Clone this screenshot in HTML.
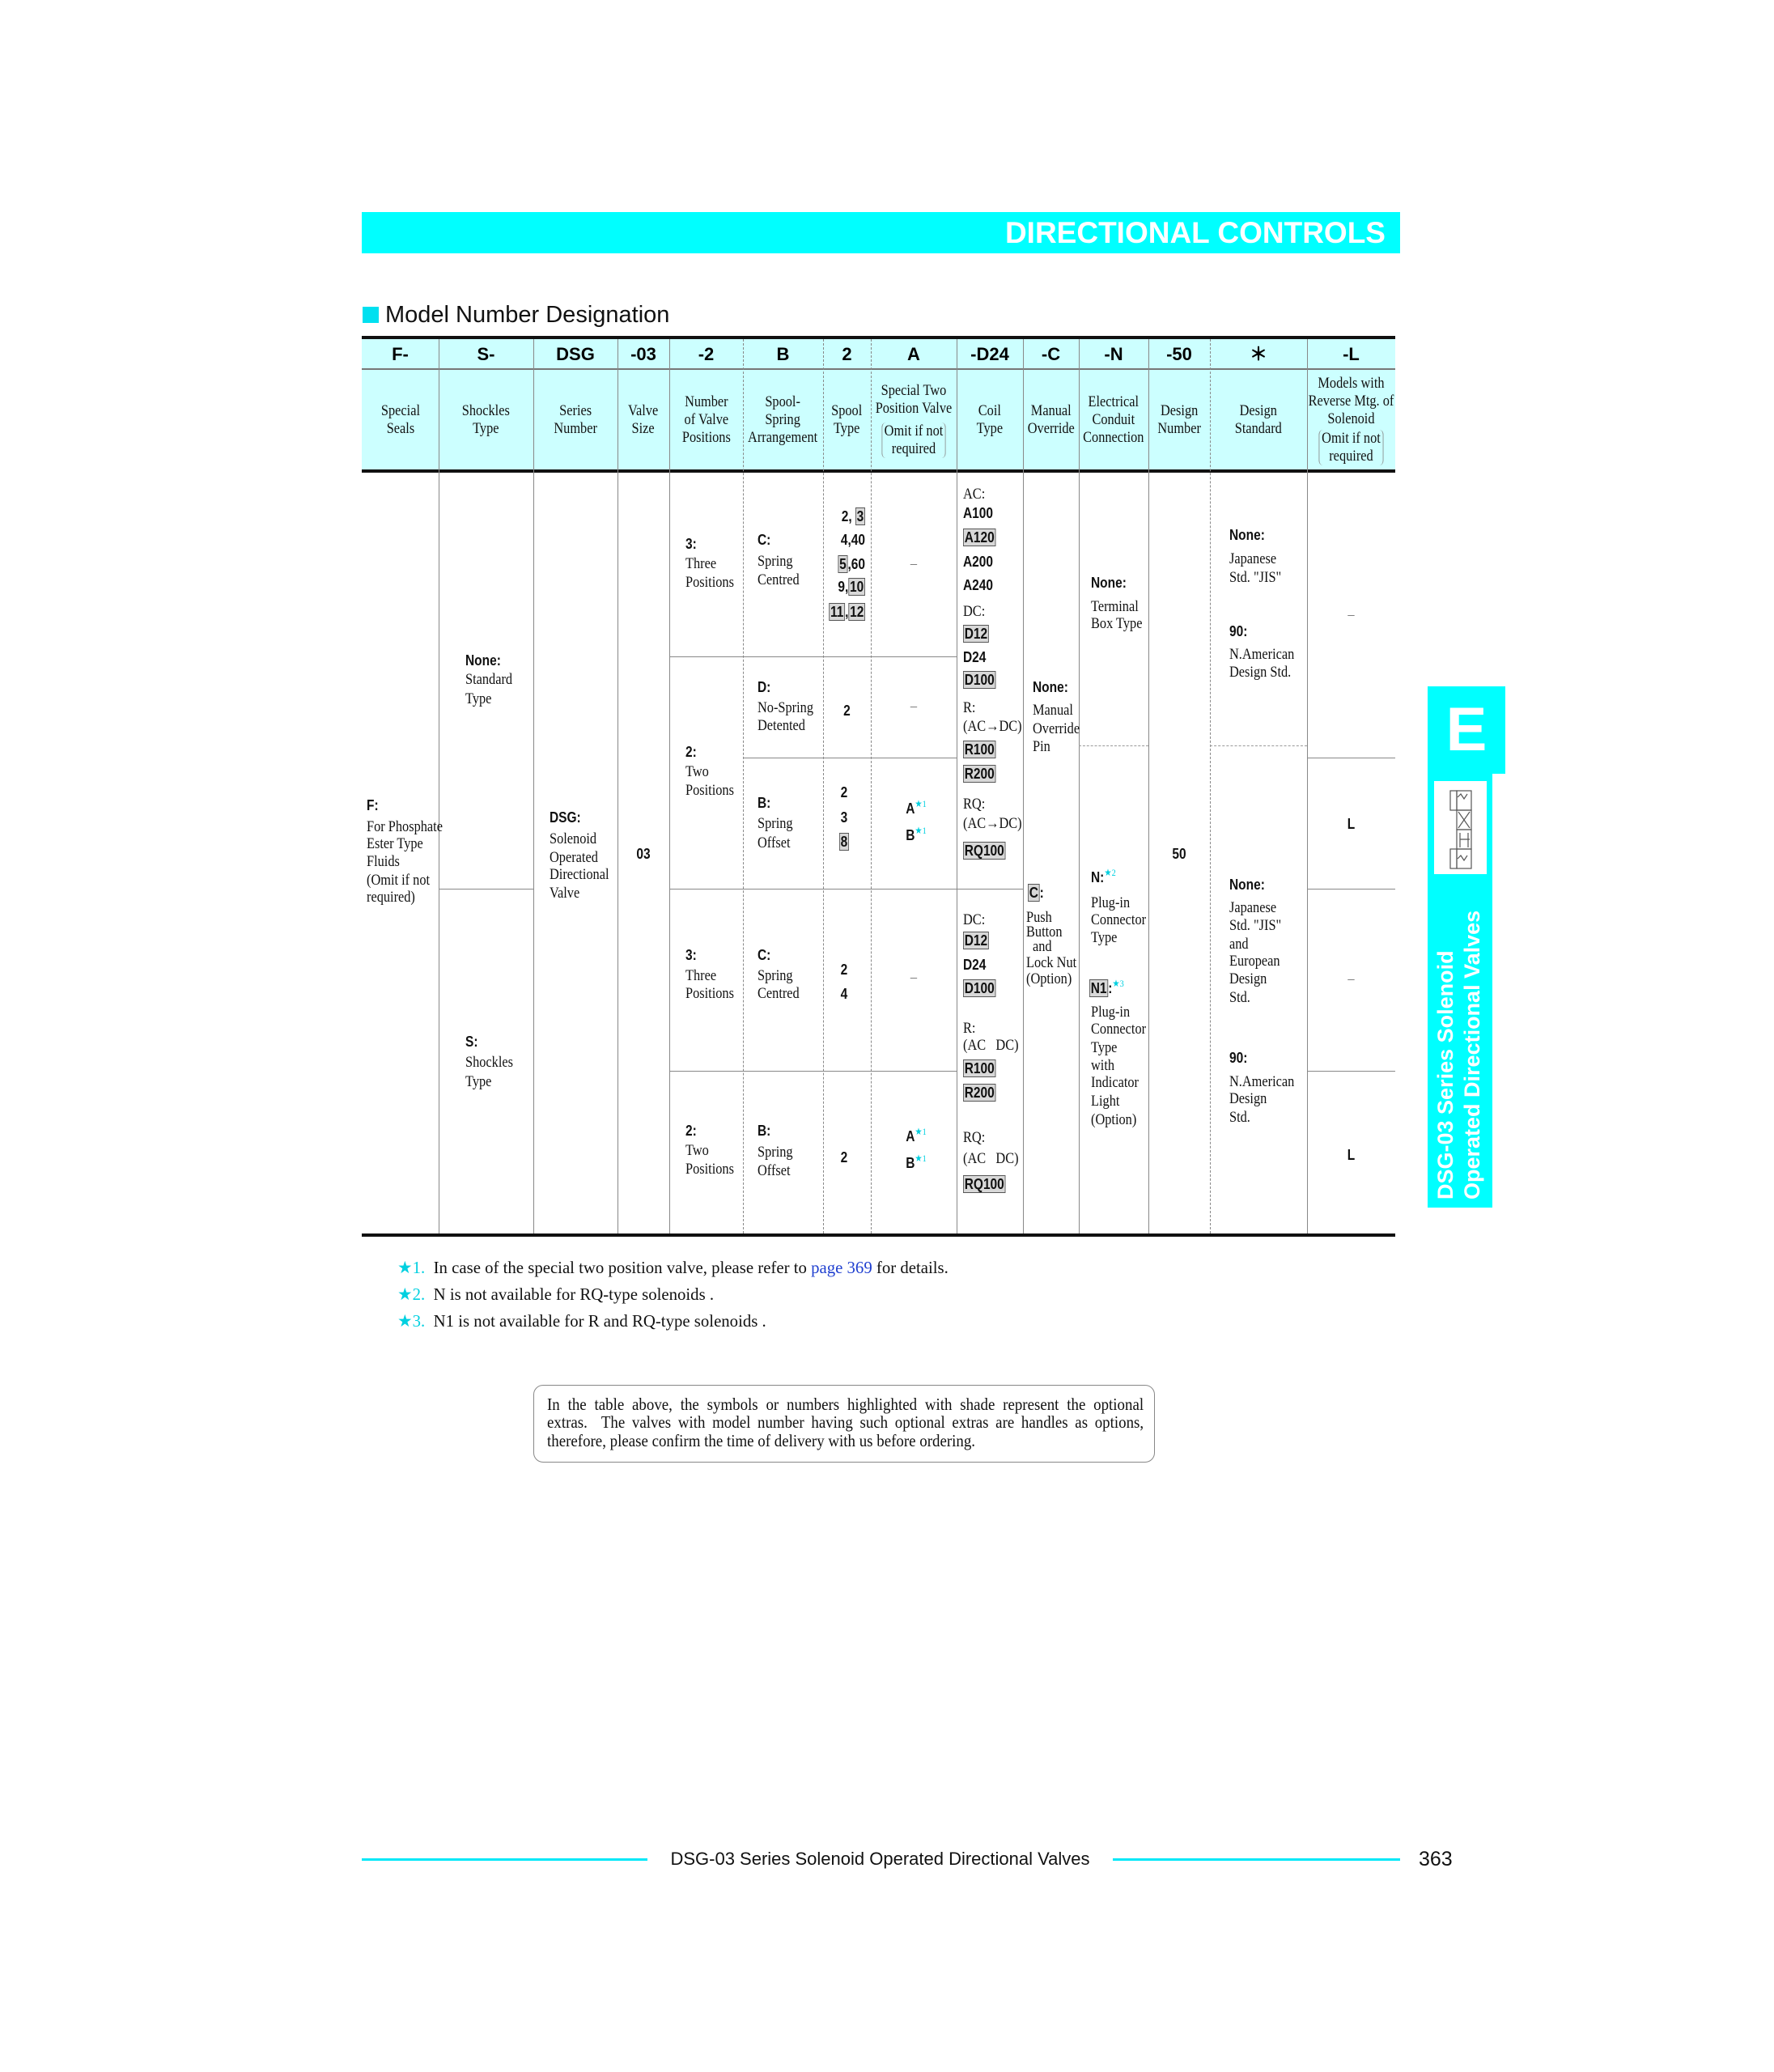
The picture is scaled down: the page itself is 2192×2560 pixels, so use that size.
<!DOCTYPE html>
<html><head><meta charset="utf-8">
<style>
html,body{margin:0;padding:0;background:#fff;}
body{width:2192px;height:2560px;position:relative;overflow:hidden;}
.a{position:absolute;}
.t{position:absolute;font:19px/22px "Liberation Serif",serif;white-space:nowrap;transform:translateY(-50%) scaleX(.86);transform-origin:0 50%;color:#111;}
.b{font-family:"Liberation Sans",sans-serif;font-weight:bold;font-size:18px;}
.c{text-align:center;transform-origin:50% 50%;}
.x{background:#d8d8d8;border:1.5px solid #555;padding:0 1px;}
.k{color:#00d0e0;font-size:12px;font-weight:normal;vertical-align:top;position:relative;top:-6px;font-family:"Liberation Serif",serif;}
.v{position:absolute;width:0;border-left:1.5px solid #888;top:419px;height:1105px;}
.d{position:absolute;width:0;border-left:1.5px dashed #888;top:419px;height:1105px;}
.h{position:absolute;height:0;border-top:1.5px solid #888;}
.hd{position:absolute;height:0;border-top:1.5px dashed #999;}
.hc{position:absolute;top:458px;height:122px;display:flex;align-items:center;justify-content:center;}
.hc div{font:19px/22px "Liberation Serif",serif;text-align:center;transform:scaleX(.86);white-space:nowrap;color:#111;}
.om{display:inline-block;border-left:1.5px solid #888;border-right:1.5px solid #888;border-radius:6px;padding:0 3px;margin-top:6px;}
.h1{position:absolute;top:421px;height:34px;line-height:34px;text-align:center;font:bold 22px/34px "Liberation Sans",sans-serif;}
.fn{position:absolute;font:21px/24px "Liberation Serif",serif;white-space:nowrap;transform:translateY(-50%) scaleX(.99);transform-origin:0 50%;color:#111;}
.nl{position:absolute;left:676px;width:819px;transform:scaleX(.9);transform-origin:0 0;font:21px/22.5px 'Liberation Serif',serif;color:#111;white-space:nowrap;}
.nj{text-align:justify;text-align-last:justify;white-space:normal;}
</style></head><body>

<!-- banner -->
<div class="a" style="left:447px;top:262px;width:1283px;height:51px;background:#00ffff;"></div>
<div class="a" style="left:1100px;top:262px;width:612px;height:51px;text-align:right;font:bold 37px/51px 'Liberation Sans',sans-serif;color:#fff;">DIRECTIONAL CONTROLS</div>

<!-- title -->
<div class="a" style="left:448px;top:379px;width:20px;height:20px;background:#00e0f0;"></div>
<div class="a" style="left:476px;top:372px;font:29px/34px 'Liberation Sans',sans-serif;color:#111;">Model Number Designation</div>

<!-- header bg -->
<div class="a" style="left:447px;top:419px;width:1277px;height:163px;background:#ccffff;"></div>
<div class="a" style="left:447px;top:415px;width:1277px;height:4px;background:#111;"></div>
<div class="a" style="left:447px;top:455px;width:1277px;height:2px;background:#777;"></div>
<div class="a" style="left:447px;top:580px;width:1277px;height:4px;background:#111;"></div>
<div class="a" style="left:447px;top:1524px;width:1277px;height:4px;background:#111;"></div>

<!-- vertical lines -->
<div class="v" style="left:542px"></div>
<div class="v" style="left:659px"></div>
<div class="v" style="left:763px"></div>
<div class="v" style="left:827px"></div>
<div class="d" style="left:918px"></div>
<div class="d" style="left:1017px"></div>
<div class="d" style="left:1076px"></div>
<div class="v" style="left:1182px"></div>
<div class="v" style="left:1264px"></div>
<div class="v" style="left:1333px"></div>
<div class="v" style="left:1419px"></div>
<div class="d" style="left:1495px"></div>
<div class="v" style="left:1615px"></div>

<!-- horizontal body lines -->
<div class="h" style="left:542px;width:117px;top:1098px"></div>
<div class="h" style="left:827px;width:355px;top:811px"></div>
<div class="h" style="left:918px;width:264px;top:936px"></div>
<div class="h" style="left:827px;width:437px;top:1098px"></div>
<div class="h" style="left:827px;width:355px;top:1323px"></div>
<div class="hd" style="left:1333px;width:86px;top:921px"></div>
<div class="hd" style="left:1495px;width:120px;top:921px"></div>
<div class="h" style="left:1615px;width:109px;top:936px"></div>
<div class="h" style="left:1615px;width:109px;top:1098px"></div>
<div class="h" style="left:1615px;width:109px;top:1323px"></div>

<!-- header row 1 -->
<div class="h1" style="left:447px;width:95px">F-</div>
<div class="h1" style="left:542px;width:117px">S-</div>
<div class="h1" style="left:659px;width:104px">DSG</div>
<div class="h1" style="left:763px;width:64px">-03</div>
<div class="h1" style="left:827px;width:91px">-2</div>
<div class="h1" style="left:918px;width:99px">B</div>
<div class="h1" style="left:1017px;width:59px">2</div>
<div class="h1" style="left:1076px;width:106px">A</div>
<div class="h1" style="left:1182px;width:82px">-D24</div>
<div class="h1" style="left:1264px;width:69px">-C</div>
<div class="h1" style="left:1333px;width:86px">-N</div>
<div class="h1" style="left:1419px;width:76px">-50</div>
<div class="h1" style="left:1495px;width:120px">＊</div>
<div class="h1" style="left:1615px;width:109px">-L</div>

<!-- header row 2 -->
<div class="hc" style="left:447px;width:95px"><div>Special<br>Seals</div></div>
<div class="hc" style="left:542px;width:117px"><div>Shockles<br>Type</div></div>
<div class="hc" style="left:659px;width:104px"><div>Series<br>Number</div></div>
<div class="hc" style="left:763px;width:64px"><div>Valve<br>Size</div></div>
<div class="hc" style="left:827px;width:91px"><div>Number<br>of Valve<br>Positions</div></div>
<div class="hc" style="left:918px;width:99px"><div>Spool-<br>Spring<br>Arrangement</div></div>
<div class="hc" style="left:1017px;width:59px"><div>Spool<br>Type</div></div>
<div class="hc" style="left:1076px;width:106px"><div>Special Two<br>Position Valve<br><span class="om">Omit if not<br>required</span></div></div>
<div class="hc" style="left:1182px;width:82px"><div>Coil<br>Type</div></div>
<div class="hc" style="left:1264px;width:69px"><div>Manual<br>Override</div></div>
<div class="hc" style="left:1333px;width:86px"><div>Electrical<br>Conduit<br>Connection</div></div>
<div class="hc" style="left:1419px;width:76px"><div>Design<br>Number</div></div>
<div class="hc" style="left:1495px;width:120px"><div>Design<br>Standard</div></div>
<div class="hc" style="left:1615px;width:109px"><div>Models with<br>Reverse Mtg. of<br>Solenoid<br><span class="om" style="margin-top:2px">Omit if not<br>required</span></div></div>

<!-- F column -->
<div class="t b" style="left:453px;top:995px">F:</div>
<div class="t" style="left:453px;top:1022px">For Phosphate</div>
<div class="t" style="left:453px;top:1043px">Ester Type</div>
<div class="t" style="left:453px;top:1065px">Fluids</div>
<div class="t" style="left:453px;top:1088px">(Omit if not</div>
<div class="t" style="left:453px;top:1109px">required)</div>

<!-- Shockles -->
<div class="t b" style="left:575px;top:816px">None:</div>
<div class="t" style="left:575px;top:840px">Standard</div>
<div class="t" style="left:575px;top:864px">Type</div>
<div class="t b" style="left:575px;top:1287px">S:</div>
<div class="t" style="left:575px;top:1313px">Shockles</div>
<div class="t" style="left:575px;top:1337px">Type</div>

<!-- DSG -->
<div class="t b" style="left:679px;top:1010px">DSG:</div>
<div class="t" style="left:679px;top:1037px">Solenoid</div>
<div class="t" style="left:679px;top:1060px">Operated</div>
<div class="t" style="left:679px;top:1081px">Directional</div>
<div class="t" style="left:679px;top:1104px">Valve</div>

<div class="t b c" style="left:763px;width:64px;top:1055px">03</div>

<!-- positions -->
<div class="t b" style="left:847px;top:672px">3:</div>
<div class="t" style="left:847px;top:697px">Three</div>
<div class="t" style="left:847px;top:720px">Positions</div>
<div class="t b" style="left:847px;top:929px">2:</div>
<div class="t" style="left:847px;top:954px">Two</div>
<div class="t" style="left:847px;top:977px">Positions</div>
<div class="t b" style="left:847px;top:1180px">3:</div>
<div class="t" style="left:847px;top:1206px">Three</div>
<div class="t" style="left:847px;top:1228px">Positions</div>
<div class="t b" style="left:847px;top:1397px">2:</div>
<div class="t" style="left:847px;top:1422px">Two</div>
<div class="t" style="left:847px;top:1445px">Positions</div>

<!-- spool spring -->
<div class="t b" style="left:936px;top:667px">C:</div>
<div class="t" style="left:936px;top:694px">Spring</div>
<div class="t" style="left:936px;top:717px">Centred</div>
<div class="t b" style="left:936px;top:849px">D:</div>
<div class="t" style="left:936px;top:875px">No-Spring</div>
<div class="t" style="left:936px;top:897px">Detented</div>
<div class="t b" style="left:936px;top:992px">B:</div>
<div class="t" style="left:936px;top:1018px">Spring</div>
<div class="t" style="left:936px;top:1042px">Offset</div>
<div class="t b" style="left:936px;top:1180px">C:</div>
<div class="t" style="left:936px;top:1206px">Spring</div>
<div class="t" style="left:936px;top:1228px">Centred</div>
<div class="t b" style="left:936px;top:1397px">B:</div>
<div class="t" style="left:936px;top:1424px">Spring</div>
<div class="t" style="left:936px;top:1447px">Offset</div>

<!-- spool type -->
<div class="t b" style="left:1017px;width:52px;text-align:right;transform-origin:100% 50%;top:638px">2, <span class="x">3</span></div>
<div class="t b" style="left:1017px;width:52px;text-align:right;transform-origin:100% 50%;top:667px">4,40</div>
<div class="t b" style="left:1017px;width:52px;text-align:right;transform-origin:100% 50%;top:697px"><span class="x">5</span>,60</div>
<div class="t b" style="left:1017px;width:52px;text-align:right;transform-origin:100% 50%;top:725px">9,<span class="x">10</span></div>
<div class="t b" style="left:1017px;width:52px;text-align:right;transform-origin:100% 50%;top:756px"><span class="x">11</span>,<span class="x">12</span></div>
<div class="t b c" style="left:1017px;width:59px;top:878px">2</div>
<div class="t b c" style="left:1017px;width:52px;top:979px">2</div>
<div class="t b c" style="left:1017px;width:52px;top:1010px">3</div>
<div class="t b c" style="left:1017px;width:52px;top:1040px"><span class="x">8</span></div>
<div class="t b c" style="left:1017px;width:52px;top:1198px">2</div>
<div class="t b c" style="left:1017px;width:52px;top:1228px">4</div>
<div class="t b c" style="left:1017px;width:52px;top:1430px">2</div>

<!-- special two -->
<div class="t c" style="left:1076px;width:106px;top:697px;color:#777">–</div>
<div class="t c" style="left:1076px;width:106px;top:873px;color:#777">–</div>
<div class="t c" style="left:1076px;width:106px;top:1208px;color:#777">–</div>
<div class="t b c" style="left:1076px;width:112px;top:999px">A<span class="k">★1</span></div>
<div class="t b c" style="left:1076px;width:112px;top:1032px">B<span class="k">★1</span></div>
<div class="t b c" style="left:1076px;width:112px;top:1404px">A<span class="k">★1</span></div>
<div class="t b c" style="left:1076px;width:112px;top:1437px">B<span class="k">★1</span></div>

<!-- coil -->
<div class="t" style="left:1190px;top:611px">AC:</div>
<div class="t b" style="left:1190px;top:634px">A100</div>
<div class="t b" style="left:1190px;top:664px"><span class="x">A120</span></div>
<div class="t b" style="left:1190px;top:694px">A200</div>
<div class="t b" style="left:1190px;top:723px">A240</div>
<div class="t" style="left:1190px;top:756px">DC:</div>
<div class="t b" style="left:1190px;top:783px"><span class="x">D12</span></div>
<div class="t b" style="left:1190px;top:812px">D24</div>
<div class="t b" style="left:1190px;top:840px"><span class="x">D100</span></div>
<div class="t" style="left:1190px;top:875px">R:</div>
<div class="t" style="left:1190px;top:898px">(AC→DC)</div>
<div class="t b" style="left:1190px;top:926px"><span class="x">R100</span></div>
<div class="t b" style="left:1190px;top:956px"><span class="x">R200</span></div>
<div class="t" style="left:1190px;top:994px">RQ:</div>
<div class="t" style="left:1190px;top:1018px">(AC→DC)</div>
<div class="t b" style="left:1190px;top:1051px"><span class="x">RQ100</span></div>
<div class="t" style="left:1190px;top:1137px">DC:</div>
<div class="t b" style="left:1190px;top:1162px"><span class="x">D12</span></div>
<div class="t b" style="left:1190px;top:1192px">D24</div>
<div class="t b" style="left:1190px;top:1221px"><span class="x">D100</span></div>
<div class="t" style="left:1190px;top:1271px">R:</div>
<div class="t" style="left:1190px;top:1292px">(AC&nbsp;&nbsp; DC)</div>
<div class="t b" style="left:1190px;top:1320px"><span class="x">R100</span></div>
<div class="t b" style="left:1190px;top:1350px"><span class="x">R200</span></div>
<div class="t" style="left:1190px;top:1406px">RQ:</div>
<div class="t" style="left:1190px;top:1432px">(AC&nbsp;&nbsp; DC)</div>
<div class="t b" style="left:1190px;top:1463px"><span class="x">RQ100</span></div>

<!-- manual override -->
<div class="t b" style="left:1276px;top:849px">None:</div>
<div class="t" style="left:1276px;top:878px">Manual</div>
<div class="t" style="left:1276px;top:901px">Override</div>
<div class="t" style="left:1276px;top:923px">Pin</div>
<div class="t b" style="left:1270px;top:1103px"><span class="x">C</span>:</div>
<div class="t" style="left:1268px;top:1134px">Push</div>
<div class="t" style="left:1268px;top:1152px">Button</div>
<div class="t" style="left:1276px;top:1170px">and</div>
<div class="t" style="left:1268px;top:1190px">Lock Nut</div>
<div class="t" style="left:1268px;top:1210px">(Option)</div>

<!-- electrical -->
<div class="t b" style="left:1348px;top:720px">None:</div>
<div class="t" style="left:1348px;top:750px">Terminal</div>
<div class="t" style="left:1348px;top:771px">Box Type</div>
<div class="t b" style="left:1348px;top:1084px">N:<span class="k">★2</span></div>
<div class="t" style="left:1348px;top:1116px">Plug-in</div>
<div class="t" style="left:1348px;top:1137px">Connector</div>
<div class="t" style="left:1348px;top:1159px">Type</div>
<div class="t b" style="left:1346px;top:1221px"><span class="x">N1</span>:<span class="k">★3</span></div>
<div class="t" style="left:1348px;top:1251px">Plug-in</div>
<div class="t" style="left:1348px;top:1272px">Connector</div>
<div class="t" style="left:1348px;top:1295px">Type</div>
<div class="t" style="left:1348px;top:1317px">with</div>
<div class="t" style="left:1348px;top:1338px">Indicator</div>
<div class="t" style="left:1348px;top:1361px">Light</div>
<div class="t" style="left:1348px;top:1384px">(Option)</div>

<div class="t b c" style="left:1419px;width:76px;top:1055px">50</div>

<!-- design standard -->
<div class="t b" style="left:1519px;top:661px">None:</div>
<div class="t" style="left:1519px;top:691px">Japanese</div>
<div class="t" style="left:1519px;top:714px">Std. "JIS"</div>
<div class="t b" style="left:1519px;top:780px">90:</div>
<div class="t" style="left:1519px;top:809px">N.American</div>
<div class="t" style="left:1519px;top:831px">Design Std.</div>
<div class="t b" style="left:1519px;top:1093px">None:</div>
<div class="t" style="left:1519px;top:1122px">Japanese</div>
<div class="t" style="left:1519px;top:1144px">Std. "JIS"</div>
<div class="t" style="left:1519px;top:1167px">and</div>
<div class="t" style="left:1519px;top:1188px">European</div>
<div class="t" style="left:1519px;top:1210px">Design</div>
<div class="t" style="left:1519px;top:1233px">Std.</div>
<div class="t b" style="left:1519px;top:1307px">90:</div>
<div class="t" style="left:1519px;top:1337px">N.American</div>
<div class="t" style="left:1519px;top:1358px">Design</div>
<div class="t" style="left:1519px;top:1381px">Std.</div>

<!-- -L -->
<div class="t c" style="left:1615px;width:109px;top:760px;color:#777">–</div>
<div class="t b c" style="left:1615px;width:109px;top:1018px">L</div>
<div class="t c" style="left:1615px;width:109px;top:1210px;color:#777">–</div>
<div class="t b c" style="left:1615px;width:109px;top:1427px">L</div>

<!-- footnotes -->
<div class="fn" style="left:491px;top:1566px"><span style="color:#00d0e0">★1.</span>&nbsp; In case of the special two position valve, please refer to <span style="color:#2040d0">page 369</span> for details.</div>
<div class="fn" style="left:491px;top:1599px"><span style="color:#00d0e0">★2.</span>&nbsp; N is not available for RQ-type solenoids .</div>
<div class="fn" style="left:491px;top:1632px"><span style="color:#00d0e0">★3.</span>&nbsp; N1 is not available for R and RQ-type solenoids .</div>

<!-- note box -->
<div class="a" style="left:659px;top:1711px;width:766px;height:94px;border:1.5px solid #888;border-radius:12px;"></div>
<div class="nl nj" style="top:1724px">In the table above, the symbols or numbers highlighted with shade represent the optional</div>
<div class="nl nj" style="top:1746px">extras.&nbsp; The valves with model number having such optional extras are handles as options,</div>
<div class="nl" style="top:1769px">therefore, please confirm the time of delivery with us before ordering.</div>

<!-- side tab -->
<div class="a" style="left:1764px;top:848px;width:96px;height:108px;background:#00ffff;"></div>
<div class="a" style="left:1764px;top:956px;width:80px;height:536px;background:#00ffff;"></div>
<div class="a" style="left:1764px;top:848px;width:96px;height:108px;text-align:center;font:bold 76px/108px 'Liberation Sans',sans-serif;color:#fff;">E</div>
<div class="a" style="left:1772px;top:965px;width:65px;height:115px;background:#fff;"></div>
<svg class="a" style="left:1772px;top:965px" width="65" height="115" viewBox="0 0 65 115" fill="none" stroke="#555" stroke-width="1.2">
<rect x="20" y="12" width="8" height="24"/><rect x="28" y="12" width="18" height="24"/><rect x="28" y="36" width="18" height="24"/><rect x="28" y="60" width="18" height="24"/><rect x="28" y="84" width="18" height="24"/><rect x="20" y="84" width="8" height="24"/>
<path d="M30 38 L44 58 M44 38 L30 58 M32 72 L44 72 M32 64 L32 82 M42 64 L42 82 M29 20 l4 -4 l4 6 l4 -6 M29 96 l4 -4 l4 6 l4 -6"/>
</svg>
<div class="a" style="left:1770px;top:1082px;width:74px;height:400px;writing-mode:vertical-rl;transform:rotate(180deg);font:bold 27px/33px 'Liberation Sans',sans-serif;color:#fff;text-align:left;white-space:nowrap;">DSG-03 Series Solenoid<br>Operated Directional Valves</div>

<!-- footer -->
<div class="a" style="left:447px;top:2296px;width:353px;height:3px;background:#00e8f8;"></div>
<div class="a" style="left:1375px;top:2296px;width:355px;height:3px;background:#00e8f8;"></div>
<div class="a" style="left:800px;top:2283px;width:575px;text-align:center;font:22px/28px 'Liberation Sans',sans-serif;color:#111;">DSG-03 Series Solenoid Operated Directional Valves</div>
<div class="a" style="left:1753px;top:2281px;font:25px/32px 'Liberation Sans',sans-serif;color:#111;">363</div>

</body></html>
